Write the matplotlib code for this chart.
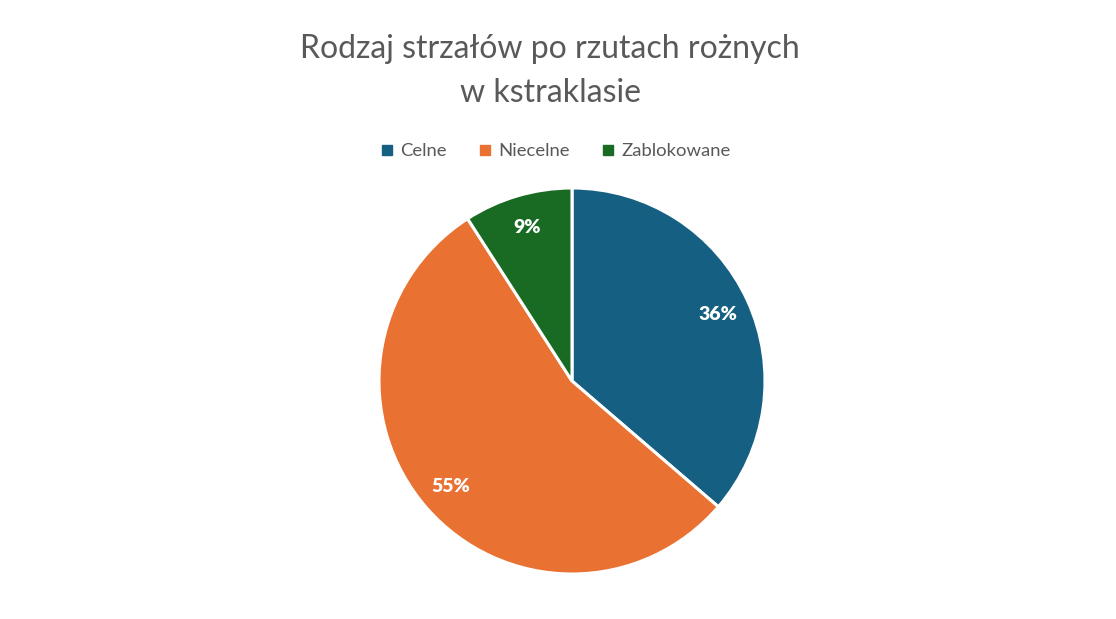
import matplotlib
matplotlib.use("Agg")
import matplotlib.pyplot as plt
from matplotlib.lines import Line2D

categories = ["Celne", "Niecelne", "Zablokowane"]
shares = [36.3, 54.6, 9.1]
colors = ["#156082", "#E97132", "#196B24"]
title = "Rodzaj strzałów po rzutach rożnych\nw kstraklasie"

plt.rcParams["font.family"] = ["Lato", "DejaVu Sans"]
txt = "#595959"

fig = plt.figure(figsize=(11.16, 6.19), dpi=100)
ax = fig.add_axes([0.3396, 0.0727, 0.3459, 0.6236])
wedges, texts, autotexts = ax.pie(shares, colors=colors, startangle=90, counterclock=False,
                                  autopct="%1.0f%%", pctdistance=0.83, radius=1,
                                  wedgeprops=dict(edgecolor="white", linewidth=2.2))
for t in autotexts:
    t.set_color("white")
    t.set_fontweight("heavy")
    t.set_fontsize(14)
ax.set_xlim(-1, 1)
ax.set_ylim(-1, 1)
ax.set_aspect("equal")

fig.text(550 / 1116, 1 - 71 / 619, title, ha="center", va="center", fontsize=23,
         color=txt, linespacing=1.55)

handles = [Line2D([], [], marker="s", linestyle="none", markersize=7,
                  markerfacecolor=c, markeredgecolor=c) for c in colors]
fig.legend(handles, categories, loc="center", bbox_to_anchor=(554 / 1116, 1 - 151 / 619),
           ncol=3, frameon=False, fontsize=13.3, labelcolor=txt,
           handletextpad=0.2, columnspacing=1.6, handlelength=1.0)

fig.savefig("out.png", dpi=100)
